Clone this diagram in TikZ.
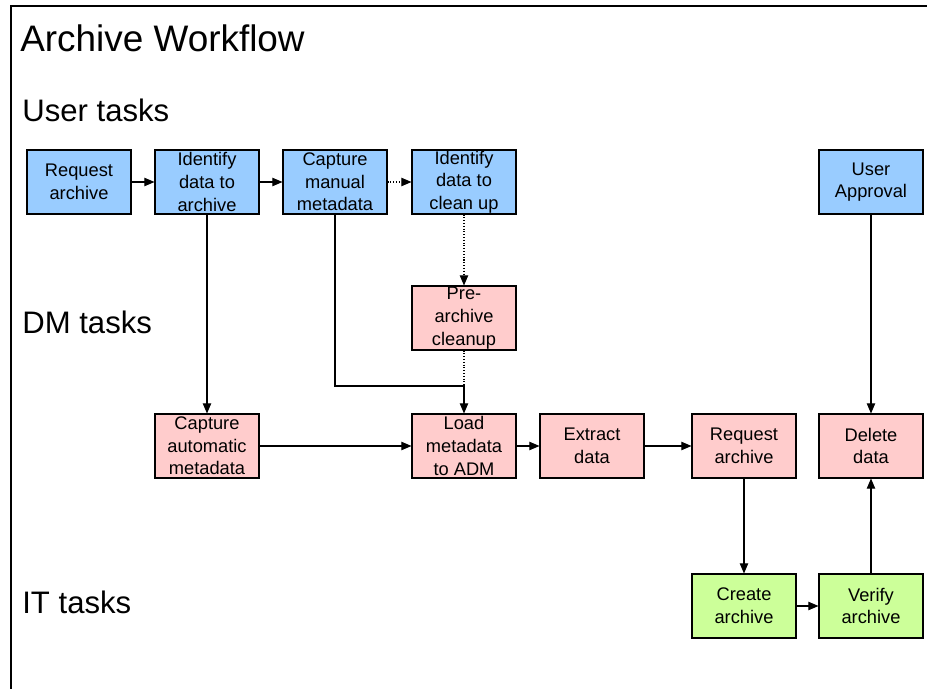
\documentclass[tikz,border=0pt]{standalone}
\usepackage{fontspec}
\setmainfont{Liberation Sans}
\usepackage{tikz}
\usetikzlibrary{positioning,arrows.meta}
\usepackage{xcolor}

\definecolor{userblue}{HTML}{99CCFF}
\definecolor{dmpink}{HTML}{FFCCCC}
\definecolor{itgreen}{HTML}{CCFF99}

\tikzset{
  task/.style={draw=black, line width=0.6pt, minimum width=2.08cm, minimum height=1.28cm,
    inner sep=0pt, align=center, font=\fontsize{10.4pt}{12.9pt}\selectfont},
  usertask/.style={task, fill=userblue},
  dmtask/.style={task, fill=dmpink},
  ittask/.style={task, fill=itgreen},
  lane/.style={anchor=west, inner sep=0pt, font=\fontsize{17.7pt}{20pt}\selectfont},
  flow/.style={->, line width=0.6pt},
  maybeflow/.style={flow, densely dotted}
}

\begin{document}
\begin{tikzpicture}[x=0.02cm,y=-0.02cm,>={Triangle[length=5.8pt,width=4.8pt]}]

\useasboundingbox (0,0) rectangle (927,689);

% frame on the left and top
\draw[line width=0.6pt] (11,689) -- (11,6) -- (927,6);

\node[lane, font=\fontsize{21pt}{24pt}\selectfont] (title) at (20,38) {Archive Workflow};
\node[lane] (userLane) at (22,110) {User tasks};
\node[lane] (dmLane) at (22,322) {DM tasks};
\node[lane] (itLane) at (22,602) {IT tasks};

% user row
\node[usertask] (reqUser) at (79,182) {Request\\archive};
\node[usertask] (identArch) at (207,182) {Identify\\data to\\archive};
\node[usertask] (captMan) at (335,182) {Capture\\manual\\metadata};
\node[usertask] (identClean) at (464,182) {Identify\\data to\\clean up};
\node[usertask] (userAppr) at (871,182) {User\\Approval};

% DM rows
\node[dmtask] (preClean) at (464,318) {Pre-\\archive\\cleanup};
\node[dmtask] (captAuto) at (207,446) {Capture\\automatic\\metadata};
\node[dmtask] (loadMeta) at (464,446) {Load\\metadata\\to ADM};
\node[dmtask] (extract) at (592,446) {Extract\\data};
\node[dmtask] (reqArch) at (744,446) {Request\\archive};
\node[dmtask] (delData) at (871,446) {Delete\\data};

% IT row
\node[ittask] (createArch) at (744,606) {Create\\archive};
\node[ittask] (verifyArch) at (871,606) {Verify\\archive};

\coordinate (join) at (464,386);

\draw[flow] (reqUser) -- (identArch);
\draw[flow] (identArch) -- (captMan);
\draw[maybeflow] (captMan) -- (identClean);
\draw[maybeflow] (identClean) -- (preClean);
\draw[densely dotted, line width=0.6pt] (preClean) -- (join);
\draw[flow] (captMan.south) |- (join) -- (loadMeta.north);
\draw[flow] (identArch) -- (captAuto);
\draw[flow] (captAuto) -- (loadMeta);
\draw[flow] (loadMeta) -- (extract);
\draw[flow] (extract) -- (reqArch);
\draw[flow] (reqArch) -- (createArch);
\draw[flow] (createArch) -- (verifyArch);
\draw[flow] (verifyArch) -- (delData);
\draw[flow] (userAppr) -- (delData);

\end{tikzpicture}
\end{document}
